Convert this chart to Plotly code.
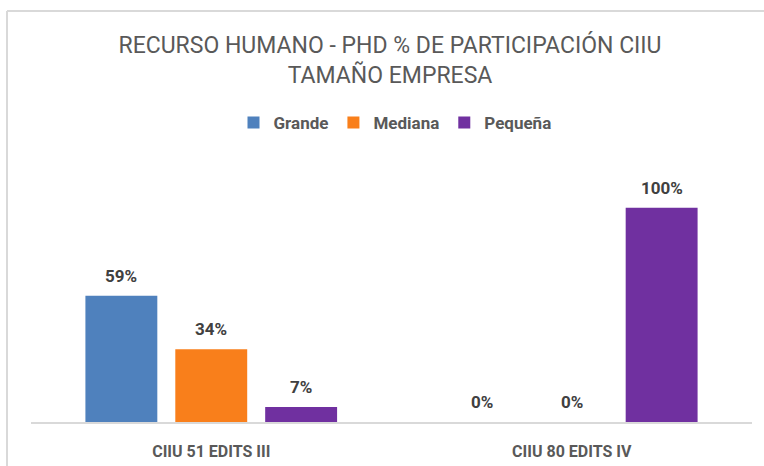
import plotly.graph_objects as go

categories = ["CIIU 51 EDITS III", "CIIU 80 EDITS IV"]
series_names = ["Grande", "Mediana", "Pequeña"]
grande = [0.59, 0.0]
mediana = [0.34, 0.0]
pequena = [0.07, 1.0]
colors = ["#4F81BD", "#F97F1B", "#7030A0"]

W, H = 764, 466
ML, MR, MT, MB = 31, 12, 165, 44
PW, PH = W - ML - MR, H - MT - MB
BARGAP, GROUPGAP = 0.252, 0.2

fig = go.Figure()
all_series = [grande, mediana, pequena]
for name, vals, col in zip(series_names, all_series, colors):
    fig.add_trace(go.Bar(
        x=categories, y=vals, name=name, marker=dict(color=col, line=dict(width=0)),
        cliponaxis=False,
    ))

# data labels, anchored on the data through the axes
slot = (1 - BARGAP) / len(all_series)
annotations = []
for i, vals in enumerate(all_series):
    off = (i - (len(all_series) - 1) / 2) * slot
    for j, v in enumerate(vals):
        annotations.append(dict(
            x=j + off, y=v, xref="x", yref="y", text=f"{v:.0%}", showarrow=False,
            yanchor="middle", yshift=20,
            font=dict(family="Roboto", size=17, color="#404040", weight="bold"),
        ))


def px_x(p):
    return (p - ML) / PW


def px_y(p):
    return (H - MB - p) / PH


border = dict(color="#D9D9D9", width=2)
fig.update_layout(
    width=W, height=H,
    margin=dict(l=ML, r=MR, t=MT, b=MB),
    paper_bgcolor="white", plot_bgcolor="white",
    barmode="group", bargap=BARGAP, bargroupgap=GROUPGAP,
    title=dict(text="RECURSO HUMANO - PHD % DE PARTICIPACIÓN CIIU<br>TAMAÑO EMPRESA",
               x=390 / W, xanchor="center", xref="container",
               y=1 - 53 / H, yanchor="middle", yref="container",
               font=dict(family="Roboto", size=23, color="#595959")),
    legend=dict(orientation="h", x=px_x(395), xanchor="center", y=px_y(123), yanchor="middle",
                font=dict(family="Roboto", size=17, color="#595959", weight="bold"),
                traceorder="normal"),
    xaxis=dict(showline=True, linecolor="#D9D9D9", linewidth=1.5, showgrid=False,
               ticks="", tickfont=dict(family="Roboto", size=16, color="#595959", weight="bold"),
               ticklabelstandoff=14, automargin=False),
    yaxis=dict(range=[0, 1.2], visible=False, showgrid=False, zeroline=False, automargin=False),
    annotations=annotations,
    shapes=[
        dict(type="line", xref="paper", yref="paper",
             x0=px_x(7), x1=px_x(W), y0=px_y(11), y1=px_y(11), line=border, layer="below"),
        dict(type="line", xref="paper", yref="paper",
             x0=px_x(7), x1=px_x(7), y0=px_y(11), y1=px_y(H), line=border, layer="below"),
    ],
)
fig.write_html("out.html", config={"displayModeBar": False},
               post_script="document.body.style.margin='0';")
